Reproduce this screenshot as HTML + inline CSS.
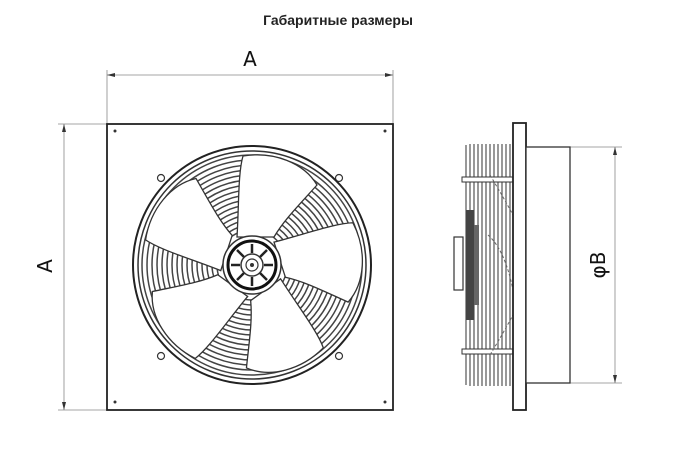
<!DOCTYPE html>
<html><head><meta charset="utf-8"><style>
body{margin:0;background:#fff;width:677px;height:448px;overflow:hidden}
</style></head><body>
<svg width="677" height="448" viewBox="0 0 677 448" xmlns="http://www.w3.org/2000/svg">
<text x="338" y="25" text-anchor="middle" font-family="Liberation Sans, DejaVu Sans, sans-serif" font-weight="bold" font-size="14" fill="#222">Габаритные размеры</text>
<g stroke="#888" stroke-width="0.8" fill="none">
<line x1="107" y1="70" x2="107" y2="124"/><line x1="393" y1="70" x2="393" y2="124"/>
<line x1="107" y1="75" x2="393" y2="75"/>
<line x1="58" y1="124" x2="107" y2="124"/><line x1="58" y1="410" x2="107" y2="410"/>
<line x1="64" y1="124" x2="64" y2="410"/>
<line x1="526" y1="147" x2="622" y2="147"/><line x1="526" y1="383" x2="622" y2="383"/>
<line x1="615" y1="147" x2="615" y2="383"/>
</g>
<g fill="#333">
<path d="M107,75 l8,-2 v4z"/><path d="M393,75 l-8,-2 v4z"/>
<path d="M64,124 l-2,8 h4z"/><path d="M64,410 l-2,-8 h4z"/>
<path d="M615,147 l-2,8 h4z"/><path d="M615,383 l-2,-8 h4z"/>
</g>
<text x="250" y="66" text-anchor="middle" font-family="DejaVu Sans, sans-serif" font-size="20" fill="#111">A</text>
<text transform="translate(52,266) rotate(-90)" text-anchor="middle" font-family="DejaVu Sans, sans-serif" font-size="20" fill="#111">A</text>
<text transform="translate(605,265) rotate(-90)" text-anchor="middle" font-family="DejaVu Sans, sans-serif" font-size="20" fill="#111">φB</text>
<rect x="107" y="124" width="286" height="286" fill="#fff" stroke="#222" stroke-width="1.8"/>
<g fill="#333"><circle cx="115" cy="131" r="1.5"/><circle cx="385" cy="131" r="1.5"/><circle cx="115" cy="402" r="1.5"/><circle cx="385" cy="402" r="1.5"/></g>
<g fill="none" stroke="#333" stroke-width="1.2"><circle cx="161" cy="178" r="3.5"/><circle cx="339" cy="178" r="3.5"/><circle cx="161" cy="356" r="3.5"/><circle cx="339" cy="356" r="3.5"/></g>
<g transform="translate(252,265)">
<circle r="119" fill="#fff" stroke="#222" stroke-width="2"/>
<circle r="114" fill="none" stroke="#333" stroke-width="1.5"/>
<g fill="none" stroke="#444" stroke-width="1.5">
<circle r="35"/><circle r="40"/><circle r="45"/><circle r="50"/><circle r="55"/><circle r="60"/><circle r="65"/><circle r="70"/><circle r="75"/><circle r="80"/><circle r="85"/><circle r="90"/><circle r="95"/><circle r="100"/><circle r="105"/><circle r="110"/>
</g>
<g fill="#fff" stroke="#333" stroke-width="1.3">
<path id="bl" d="M -15,-28 C -13,-60 -14,-92 -9,-109 C 22,-114 52,-102 65,-80 C 47,-60 32,-45 22,-28 Z"/>
<use href="#bl" transform="rotate(72)"/><use href="#bl" transform="rotate(144)"/><use href="#bl" transform="rotate(216)"/><use href="#bl" transform="rotate(288)"/>
</g>
<circle r="29" fill="#fff" stroke="#333" stroke-width="1.5"/>
<circle r="24" fill="#fff" stroke="#111" stroke-width="3"/>
<g stroke="#222" stroke-width="2.5">
<line x1="0" y1="-21" x2="0" y2="-12"/><line x1="0" y1="21" x2="0" y2="12"/><line x1="-21" y1="0" x2="-12" y2="0"/><line x1="21" y1="0" x2="12" y2="0"/>
<line x1="15" y1="15" x2="8" y2="8"/><line x1="-15" y1="15" x2="-8" y2="8"/><line x1="15" y1="-15" x2="8" y2="-8"/><line x1="-15" y1="-15" x2="-8" y2="-8"/>
</g>
<circle r="11" fill="none" stroke="#333" stroke-width="1.5"/>
<circle r="6" fill="none" stroke="#333" stroke-width="1.2"/>
<circle r="2" fill="#333"/>
</g>
<g stroke="#555" stroke-width="1.2" fill="none">
<line x1="466" y1="145" x2="466" y2="385"/><line x1="470" y1="144" x2="470" y2="386"/><line x1="474" y1="144" x2="474" y2="386"/><line x1="478" y1="144" x2="478" y2="386"/><line x1="482" y1="144" x2="482" y2="386"/><line x1="486" y1="144" x2="486" y2="386"/><line x1="490" y1="144" x2="490" y2="386"/><line x1="494" y1="144" x2="494" y2="386"/><line x1="498" y1="144" x2="498" y2="386"/><line x1="502" y1="144" x2="502" y2="386"/><line x1="506" y1="144" x2="506" y2="386"/><line x1="510" y1="144" x2="510" y2="386"/>
</g>
<g stroke="#333" stroke-width="1" fill="#fff">
<rect x="462" y="177" width="51" height="5"/><rect x="462" y="349" width="51" height="5"/>
</g>
<path d="M490,175 Q505,200 513,215 M490,355 Q505,330 513,315 M488,235 Q505,250 513,290" stroke="#666" stroke-dasharray="3,2" fill="none"/>
<rect x="466" y="210" width="8" height="110" fill="#444"/>
<rect x="474" y="225" width="5" height="80" fill="#666"/>
<rect x="454" y="237" width="9" height="53" fill="#fff" stroke="#333" stroke-width="1.2"/>
<rect x="513" y="123" width="13" height="287" fill="#fff" stroke="#222" stroke-width="1.8"/>
<rect x="526" y="147" width="44" height="236" fill="#fff" stroke="#333" stroke-width="1.3"/>
</svg>
</body></html>
